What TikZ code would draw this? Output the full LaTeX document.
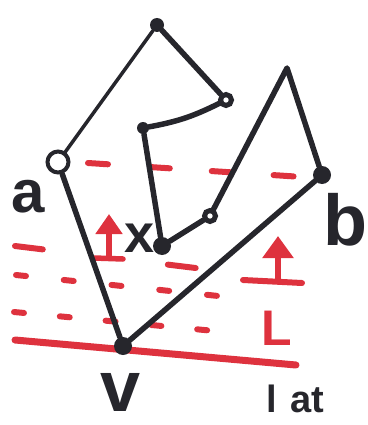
\documentclass[tikz,border=0pt]{standalone}
\usepackage{fontspec}
\setmainfont{Liberation Sans}
\definecolor{inkblack}{RGB}{38,38,44}
\definecolor{markred}{RGB}{222,50,62}
\usetikzlibrary{arrows.meta}

\begin{document}
\begin{tikzpicture}[x=1pt, y=-1pt,
    dot/.style={circle, fill=inkblack, inner sep=0pt, minimum size=14pt},
    hub/.style={circle, draw=inkblack, line width=5pt, fill=white, inner sep=0pt, minimum size=11pt},
    side/.style={inkblack, line width=5.5pt, line join=round, line cap=round},
    reddash/.style={markred, line width=6pt, line cap=round},
    lift/.style={markred, line width=6.5pt, -{Triangle[width=30pt, length=22pt]}},
    lbl/.style={inkblack, font=\fontsize{60}{60}\selectfont\bfseries, inner sep=0pt},
]
    \useasboundingbox (0,0) rectangle (367,425);

    \draw[reddash, dash pattern=on 20pt off 42pt] (88,163) -- (318,178);
    \draw[reddash, dash pattern=on 28pt off 126pt] (15,246) -- (212,270);
    \draw[reddash, dash pattern=on 10pt off 38pt] (16,275) -- (228,297);
    \draw[reddash, dash pattern=on 10pt off 36pt] (14,312) -- (236,333);
    \draw[markred, line width=7pt, line cap=round] (15,340) -- (296,365);

    \coordinate (s1) at (109,258);
    \coordinate (t1) at (109,214);
    \draw[lift, -{Triangle[width=26pt, length=20pt]}] (s1) -- (t1);
    \draw[markred, line width=5.5pt, line cap=round] (94,258) -- (123,259);
    \coordinate (s2) at (278,281);
    \coordinate (t2) at (278,236);
    \draw[lift] (s2) -- (t2);
    \draw[markred, line width=6pt, line cap=round] (243,280) -- (302,283);
    \node[markred, font=\fontsize{50}{50}\selectfont\bfseries, inner sep=0pt] (lL) at (277,328) {L};

    \node[circle, draw=inkblack, line width=4pt, fill=white, inner sep=0pt, minimum size=21pt] (a) at (58,162) {};
    \node[dot] (top) at (157,25) {};
    \node[hub] (p1) at (226,100) {};
    \node[dot, minimum size=12pt] (p2) at (143,128) {};
    \node[dot, minimum size=18pt] (x) at (162,246) {};
    \node[hub] (p3) at (210,216) {};
    \coordinate (peak) at (287,68);
    \node[dot, minimum size=18pt] (b) at (322,175) {};
    \node[dot, minimum size=18pt] (v) at (123,346) {};

    \draw[side, line width=3.5pt] (a) -- (top);
    \draw[side] (top) -- (p1);
    \draw[side] (p1) to[bend left=8] (p2);
    \draw[side] (p2) -- (x);
    \draw[side] (x) -- (p3);
    \draw[side] (p3) -- (peak) -- (b);
    \draw[side] (b) -- (v);
    \draw[side] (v) -- (a);

    \node[lbl] (la) at (28,197) {a};
    \node[lbl, font=\fontsize{54}{54}\selectfont\bfseries] (lx) at (140,238) {x};
    \node[lbl, font=\fontsize{72}{72}\selectfont\bfseries] (lv) at (121,392) {v};
    \node[lbl, font=\fontsize{72}{72}\selectfont\bfseries] (lb) at (345,220) {b};
    \node[lbl, font=\fontsize{38}{38}\selectfont\bfseries, anchor=base west] (lat) at (266,412) {l\hspace{14pt}at};
\end{tikzpicture}
\end{document}
